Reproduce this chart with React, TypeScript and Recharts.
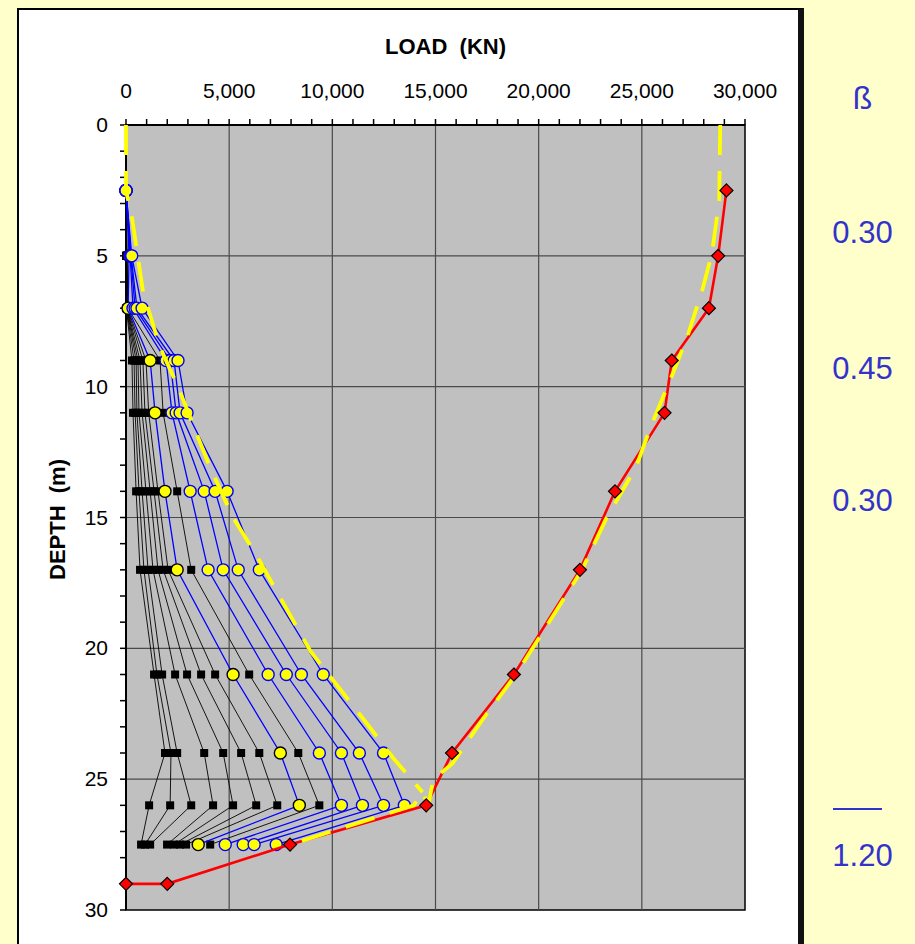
import React from "react";
import {
  ScatterChart,
  Scatter,
  XAxis,
  YAxis,
  ReferenceArea,
  ReferenceLine,
} from "recharts";

// depths (m) where the load distribution was measured
const depths = [2.5, 5, 7, 9, 11, 14, 17, 21, 24, 26, 27.5];

// load (kN) at each depth, one array per load step
const c1 = [0, 10, 20, 290, 340, 490, 680, 1360, 1890, 1120, 730];
const c2 = [0, 15, 30, 390, 440, 630, 870, 1500, 2180, 2140, 920];
const c3 = [0, 20, 40, 490, 530, 780, 1070, 1750, 2480, 3160, 1170];
const c4 = [0, 25, 50, 580, 630, 970, 1310, 2380, 3790, 4220, 1990];
const c5 = [0, 30, 60, 680, 780, 1170, 1550, 2960, 4710, 5190, 2330];
const c6 = [0, 35, 70, 820, 920, 1360, 1800, 3640, 5580, 6310, 2620];
const c7 = [0, 40, 80, 970, 1100, 1550, 2040, 4320, 6460, 7330, 2910];
const c8 = [0, 150, 100, 1170, 1410, 1890, 2480, 5190, 7480, 8400, 3500];
const c9 = [0, 50, 90, 1650, 1800, 2480, 3160, 5970, 8350, 9370, 4080];
const c10 = [0, 200, 340, 1940, 2230, 3110, 3980, 6890, 9370, 10440, 4810];
const c11 = [0, 230, 440, 2140, 2430, 3790, 4710, 7770, 10440, 11460, 5680];
const c12 = [0, 250, 530, 2330, 2620, 4320, 5440, 8500, 11310, 12480, 6210];
const c13 = [0, 277, 780, 2520, 2960, 4900, 6460, 9560, 12480, 13490, 7280];

const blackCurves = [c1, c2, c3, c4, c5, c6, c7, c9];
const blueCurves = [c10, c11, c12, c13];

// total resistance (red diamonds)
const totalDepths = [2.5, 5, 7, 9, 11, 14, 17, 21, 24, 26, 27.5, 29, 29];
const totalLoads = [29100, 28700, 28250, 26450, 26100, 23700, 22000, 18800, 15800, 14550, 7950, 2000, 0];

// yellow dashed fits
const envDepths = [0, 2.5, 3.6, 6.4, 8.5, 10, 13.1, 15, 16.5, 20.1, 22.9, 24.2, 25.5];
const envLoads = [0, 0, 300, 830, 1650, 2520, 4080, 5190, 6360, 8930, 11700, 12960, 14370];
const fitDepths = [0, 2.9, 4.9, 6.4, 8.1, 9.7, 11.4, 13.1, 15, 17, 19, 21, 22.7, 24.4, 25.0, 26.0, 25.5, 26.0, 27.5];
const fitLoads = [28800, 28750, 28400, 27900, 27200, 26400, 25500, 24700, 23300, 22100, 20500, 18900, 17300, 15820, 14900, 14650, 14370, 13950, 7950];

const loadTicks = [0, 1000, 2000, 3000, 4000, 5000, 6000, 7000, 8000, 9000, 10000, 11000, 12000, 13000, 14000, 15000, 16000, 17000, 18000, 19000, 20000, 21000, 22000, 23000, 24000, 25000, 26000, 27000, 28000, 29000, 30000];
const depthTicks = [0, 1, 2, 3, 4, 5, 6, 7, 8, 9, 10, 11, 12, 13, 14, 15, 16, 17, 18, 19, 20, 21, 22, 23, 24, 25, 26, 27, 28, 29, 30];
const loadGrid = [5000, 10000, 15000, 20000, 25000];
const depthGrid = [5, 10, 15, 20, 25];

const betaValues = ["0.30", "0.45", "0.30"];
const betaTotal = "1.20";

const FONT = "Arial, 'Liberation Sans', sans-serif";
const BLUE_TXT = "#3333cc";

const toPts = (loads: number[], ds: number[]) =>
  loads.map((x, i) => ({ x, y: ds[i] }));

const noShape = () => <g />;

const Square = (p: any) => (
  <rect x={p.cx - 4} y={p.cy - 4} width={8} height={8} fill="#000" />
);
const BlueDot = (p: any) => (
  <circle cx={p.cx} cy={p.cy} r={6} fill="#ffff00" stroke="#0000ff" strokeWidth={1.4} />
);
const BlackDot = (p: any) => (
  <circle cx={p.cx} cy={p.cy} r={6} fill="#ffff00" stroke="#000" strokeWidth={1.4} />
);
const Diamond = (p: any) => (
  <path
    d={`M${p.cx},${p.cy - 6.5}L${p.cx + 6.5},${p.cy}L${p.cx},${p.cy + 6.5}L${p.cx - 6.5},${p.cy}Z`}
    fill="#ff0000"
    stroke="#000"
    strokeWidth={1.2}
  />
);

const LoadTick = (p: any) => {
  if (p.payload.value % 5000 !== 0) return <g />;
  return (
    <text x={p.x} y={p.y} textAnchor="middle" fontSize={21} fontFamily={FONT} fill="#000">
      {p.payload.value.toLocaleString("en-US")}
    </text>
  );
};

const DepthTick = (p: any) => {
  if (p.payload.value % 5 !== 0) return <g />;
  return (
    <text x={p.x} y={p.y} dy={7} textAnchor="end" fontSize={21} fontFamily={FONT} fill="#000">
      {p.payload.value}
    </text>
  );
};

export default function App() {
  return (
    <div
      style={{
        position: "absolute",
        left: 0,
        top: 0,
        width: 915,
        height: 944,
        background: "#ffffcc",
        overflow: "hidden",
        fontFamily: FONT,
      }}
    >
      {/* chart frame */}
      <div
        style={{
          position: "absolute",
          left: 17,
          top: 8,
          width: 779,
          height: 960,
          background: "#fff",
          borderLeft: "2px solid #000",
          borderTop: "2px solid #000",
          borderRight: "6px solid #111",
        }}
      />
      <div style={{ position: "absolute", left: 0, top: 0 }}>
        <ScatterChart
          width={915}
          height={944}
          margin={{ top: 85, right: 170, bottom: 34, left: 66 }}
        >
          <XAxis
            type="number"
            dataKey="x"
            orientation="top"
            domain={[0, 30000]}
            ticks={loadTicks}
            interval={0}
            height={40}
            tickSize={6}
            tickMargin={21}
            tick={<LoadTick />}
            axisLine={{ stroke: "#000", strokeWidth: 2 }}
            tickLine={{ stroke: "#000", strokeWidth: 1.5 }}
            label={{
              content: (props: any) => {
                const vb = props.viewBox;
                return (
                  <text
                    x={vb.x + vb.width / 2 + 10}
                    y={vb.y - 31}
                    textAnchor="middle"
                    fontSize={22}
                    fontWeight="bold"
                    fontFamily={FONT}
                    fill="#000"
                  >
                    {"LOAD\u00a0\u00a0(KN)"}
                  </text>
                );
              },
            }}
          />
          <YAxis
            type="number"
            dataKey="y"
            reversed
            domain={[0, 30]}
            ticks={depthTicks}
            interval={0}
            width={60}
            tickSize={6}
            tickMargin={12}
            tick={<DepthTick />}
            axisLine={{ stroke: "#000", strokeWidth: 2 }}
            tickLine={{ stroke: "#000", strokeWidth: 1.5 }}
            label={{
              content: (props: any) => {
                const vb = props.viewBox;
                const cx = vb.x - 1;
                const cy = vb.y + vb.height / 2 + 2;
                return (
                  <text
                    x={cx}
                    y={cy}
                    transform={`rotate(-90 ${cx} ${cy})`}
                    textAnchor="middle"
                    fontSize={22}
                    fontWeight="bold"
                    fontFamily={FONT}
                    fill="#000"
                  >
                    {"DEPTH\u00a0\u00a0(m)"}
                  </text>
                );
              },
            }}
          />
          <ReferenceArea
            x1={0}
            x2={30000}
            y1={0}
            y2={30}
            fill="#c0c0c0"
            fillOpacity={1}
            stroke="#000"
            strokeWidth={1.5}
          />
          {loadGrid.map((v) => (
            <ReferenceLine key={`gx${v}`} x={v} stroke="#4a4a4a" strokeWidth={1.2} />
          ))}
          {depthGrid.map((v) => (
            <ReferenceLine key={`gy${v}`} y={v} stroke="#4a4a4a" strokeWidth={1.2} />
          ))}

          {blackCurves.map((c, i) => (
            <Scatter
              key={`b${i}`}
              data={toPts(c, depths)}
              line={{ stroke: "#000", strokeWidth: 0.9 }}
              shape={Square}
              isAnimationActive={false}
            />
          ))}
          <Scatter
            data={toPts(c8, depths)}
            line={{ stroke: "#0000ff", strokeWidth: 1.3 }}
            shape={BlackDot}
            isAnimationActive={false}
          />
          {blueCurves.map((c, i) => (
            <Scatter
              key={`u${i}`}
              data={toPts(c, depths)}
              line={{ stroke: "#0000ff", strokeWidth: 1.3 }}
              shape={BlueDot}
              isAnimationActive={false}
            />
          ))}

          <Scatter
            data={toPts(totalLoads, totalDepths)}
            line={{ stroke: "#ff0000", strokeWidth: 2.6 }}
            shape={noShape}
            isAnimationActive={false}
          />
          <Scatter
            data={toPts(envLoads, envDepths)}
            line={{ stroke: "#ffff00", strokeWidth: 3.8, strokeDasharray: "30 16" }}
            shape={noShape}
            isAnimationActive={false}
          />
          <Scatter
            data={toPts(fitLoads, fitDepths)}
            line={{ stroke: "#ffff00", strokeWidth: 3.8, strokeDasharray: "30 16" }}
            shape={noShape}
            isAnimationActive={false}
          />
          <Scatter
            data={toPts(totalLoads, totalDepths)}
            shape={Diamond}
            isAnimationActive={false}
          />
        </ScatterChart>
      </div>

      {/* beta column */}
      <div style={{ position: "absolute", left: 815, width: 95, top: 80, textAlign: "center", color: BLUE_TXT, fontSize: 32 }}>
        ß
      </div>
      {betaValues.map((v, i) => (
        <div
          key={i}
          style={{
            position: "absolute",
            left: 815,
            width: 95,
            top: [215, 351, 483][i],
            textAlign: "center",
            color: BLUE_TXT,
            fontSize: 31,
          }}
        >
          {v}
        </div>
      ))}
      <div style={{ position: "absolute", left: 833, top: 808, width: 49, height: 2, background: BLUE_TXT }} />
      <div style={{ position: "absolute", left: 815, width: 95, top: 838, textAlign: "center", color: BLUE_TXT, fontSize: 31 }}>
        {betaTotal}
      </div>
    </div>
  );
}
